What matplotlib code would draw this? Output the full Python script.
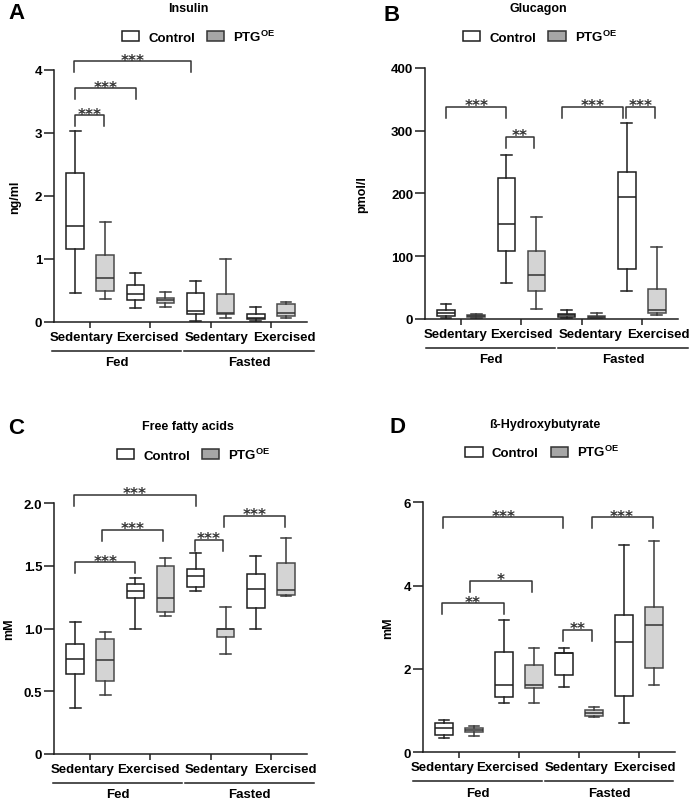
import matplotlib
matplotlib.use('Agg')
import matplotlib.pyplot as plt
import matplotlib.transforms as mtransforms
from matplotlib.patches import Patch

plt.rcParams['font.family'] = ['Liberation Sans', 'DejaVu Sans']
plt.rcParams['font.weight'] = 'bold'
plt.rcParams['mathtext.fontset'] = 'custom'
plt.rcParams['mathtext.rm'] = 'Liberation Sans:bold'
plt.rcParams['mathtext.bf'] = 'Liberation Sans:bold'

# box order: Fed Sed Ctrl, Fed Sed PTG, Fed Ex Ctrl, Fed Ex PTG,
#            Fasted Sed Ctrl, Fasted Sed PTG, Fasted Ex Ctrl, Fasted Ex PTG
series = ['Control', r'PTG$^{\mathbf{OE}}$']
conditions = ['Sedentary', 'Exercised', 'Sedentary', 'Exercised']
feeding = ['Fed', 'Fasted']

ins_lo = [0.46, 0.37, 0.22, 0.24, 0.02, 0.07, 0.02, 0.06]
ins_q1 = [1.16, 0.49, 0.35, 0.30, 0.13, 0.13, 0.05, 0.09]
ins_med = [1.53, 0.69, 0.45, 0.35, 0.17, 0.15, 0.07, 0.15]
ins_q3 = [2.37, 1.07, 0.59, 0.38, 0.46, 0.44, 0.13, 0.28]
ins_hi = [3.03, 1.58, 0.77, 0.48, 0.65, 1.00, 0.23, 0.32]

glu_lo = [2, 2, 57, 16, 2, 1, 45, 6]
glu_q1 = [5, 3, 109, 45, 3, 2, 80, 10]
glu_med = [9, 4.5, 151, 70, 6.5, 3.5, 195, 14]
glu_q3 = [14, 6, 225, 108, 8.5, 4.5, 234, 48]
glu_hi = [24, 8, 262, 163, 14, 9.5, 312, 115]

ffa_lo = [0.37, 0.47, 1.00, 1.10, 1.30, 0.80, 1.00, 1.26]
ffa_q1 = [0.64, 0.58, 1.245, 1.13, 1.33, 0.93, 1.165, 1.27]
ffa_med = [0.76, 0.75, 1.30, 1.245, 1.42, 1.00, 1.32, 1.305]
ffa_q3 = [0.88, 0.915, 1.36, 1.50, 1.475, 1.00, 1.435, 1.525]
ffa_hi = [1.05, 0.97, 1.40, 1.56, 1.60, 1.17, 1.58, 1.72]

bhb_lo = [0.335, 0.385, 1.175, 1.19, 1.56, 0.85, 0.71, 1.62]
bhb_q1 = [0.415, 0.48, 1.335, 1.55, 1.86, 0.87, 1.35, 2.02]
bhb_med = [0.59, 0.535, 1.61, 1.615, 2.38, 0.95, 2.65, 3.05]
bhb_q3 = [0.70, 0.58, 2.40, 2.095, 2.39, 1.01, 3.30, 3.49]
bhb_hi = [0.775, 0.64, 3.17, 2.50, 2.50, 1.09, 4.98, 5.07]

# significance brackets: (x start, x end, height, label)
ins_sig = [(-0.03, 3.86, 4.14, '***'), (0, 2.01, 3.71, '***'), (0, 0.96, 3.28, '***')]
glu_sig = [(0, 2.0, 338, '***'), (1.99, 2.92, 290, '**'),
           (3.85, 5.88, 338, '***'), (5.98, 6.94, 338, '***')]
ffa_sig = [(-0.03, 4.0, 2.07, '***'), (0.9, 2.93, 1.79, '***'), (3.97, 4.9, 1.71, '***'),
           (4.93, 6.97, 1.90, '***'), (0, 2.0, 1.53, '***')]
bhb_sig = [(-0.03, 3.98, 5.64, '***'), (4.92, 6.96, 5.64, '***'), (0.87, 2.94, 4.12, '*'),
           (-0.07, 2.0, 3.58, '**'), (3.98, 4.92, 2.94, '**')]

fig = plt.figure(figsize=(6.9, 8.03), dpi=100)

panels = [
    dict(letter='A', title='Insulin', ylabel='ng/ml', rect=[0.0783, 0.5978, 0.3667, 0.3138],
         data=(ins_lo, ins_q1, ins_med, ins_q3, ins_hi), sig=ins_sig, ymax=4,
         yticks=[0, 1, 2, 3, 4], ytl=['0', '1', '2', '3', '4'], shift=0.0, ylx=-0.154,
         letter_xy=(0.012, 0.9826), title_xy=(0.2725, 0.9888), leg_xy=(0.288, 0.954)),
    dict(letter='B', title='Glucagon', ylabel='pmol/l', rect=[0.6159, 0.6015, 0.3667, 0.3126],
         data=(glu_lo, glu_q1, glu_med, glu_q3, glu_hi), sig=glu_sig, ymax=400,
         yticks=[0, 100, 200, 300, 400], ytl=['0', '100', '200', '300', '400'], shift=0.1,
         ylx=-0.249, letter_xy=(0.556, 0.981), title_xy=(0.78, 0.9888), leg_xy=(0.783, 0.954)),
    dict(letter='C', title='Free fatty acids', ylabel='mM', rect=[0.0783, 0.0598, 0.3667, 0.3122],
         data=(ffa_lo, ffa_q1, ffa_med, ffa_q3, ffa_hi), sig=ffa_sig, ymax=2.0,
         yticks=[0, 0.5, 1.0, 1.5, 2.0], ytl=['0', '0.5', '1.0', '1.5', '2.0'], shift=0.02,
         ylx=-0.178, letter_xy=(0.012, 0.4664), title_xy=(0.2725, 0.4682), leg_xy=(0.281, 0.4334)),
    dict(letter='D', title='ß-Hydroxybutyrate', ylabel='mM', rect=[0.613, 0.0619, 0.3652, 0.3113],
         data=(bhb_lo, bhb_q1, bhb_med, bhb_q3, bhb_hi), sig=bhb_sig, ymax=6,
         yticks=[0, 2, 4, 6], ytl=['0', '2', '4', '6'], shift=-0.27,
         ylx=-0.139, letter_xy=(0.565, 0.4676), title_xy=(0.79, 0.4707), leg_xy=(0.786, 0.4363)),
]

dark = '#1e1e1e'
styles = [
    dict(face='white', edge=dark, line=dark, med=dark),
    dict(face='#d4d4d4', edge='#4a4a4a', line='#3a3a3a', med='#333333'),
]
lw = 1.1

for p in panels:
    ax = fig.add_axes(p['rect'])
    lo, q1, med, q3, hi = p['data']
    for k, st in enumerate(styles):
        idx = list(range(k, 8, 2))
        stats = [dict(whislo=lo[i], q1=q1[i], med=med[i], q3=q3[i], whishi=hi[i]) for i in idx]
        ax.bxp(stats, positions=idx, widths=0.58, capwidths=0.36, patch_artist=True,
               showfliers=False, manage_ticks=False,
               boxprops=dict(facecolor=st['face'], edgecolor=st['edge'], linewidth=lw),
               whiskerprops=dict(color=st['line'], linewidth=lw),
               capprops=dict(color=st['line'], linewidth=lw),
               medianprops=dict(color=st['med'], linewidth=lw))

    ax.set_xlim(-0.7, 7.7)
    ax.set_ylim(0, p['ymax'])
    ax.set_yticks(p['yticks'])
    ax.set_yticklabels(p['ytl'])
    ax.set_xticks([0.5, 2.5, 4.5, 6.5])
    ax.set_xticklabels([])
    ax.tick_params(axis='y', length=7, width=lw, pad=1.5, labelsize=9.5, color=dark)
    ax.tick_params(axis='x', length=4.3, width=lw, color=dark)
    for s in ['top', 'right']:
        ax.spines[s].set_visible(False)
    for s in ['left', 'bottom']:
        ax.spines[s].set_color(dark)
        ax.spines[s].set_linewidth(lw)

    # category labels and group lines below the axis
    base = ax.get_xaxis_transform()
    t_lab = mtransforms.offset_copy(base, fig=fig, y=-15 * 0.72, units='points')
    t_line = mtransforms.offset_copy(base, fig=fig, y=-29 * 0.72, units='points')
    t_grp = mtransforms.offset_copy(base, fig=fig, y=-40.5 * 0.72, units='points')
    sh = p['shift']
    for xc, lab in zip([0.23, 2.4, 4.69, 6.96], conditions):
        ax.text(xc + sh, 0, lab, transform=t_lab, ha='center', va='center', fontsize=9.5)
    for (x0, x1), xc, lab in zip([(-0.76, 3.53), (3.63, 7.92)], [1.39, 5.78], feeding):
        ax.plot([x0 + sh, x1 + sh], [0, 0], transform=t_line, color=dark, lw=lw, clip_on=False)
        ax.text(xc + sh, 0, lab, transform=t_grp, ha='center', va='center', fontsize=9.5)

    # significance brackets
    leg = 0.044 * p['ymax']
    for x0, x1, y, lab in p['sig']:
        ax.plot([x0, x0, x1, x1], [y - leg, y, y, y - leg], color='#333333', lw=lw, clip_on=False)
        ax.annotate(lab, xy=((x0 + x1) / 2, y), xytext=(0, -2.5), textcoords='offset points',
                    ha='center', va='baseline', fontsize=11, fontweight='bold',
                    family='DejaVu Sans', color='#333333', annotation_clip=False)

    ax.text(p['ylx'], 0.5, p['ylabel'], rotation=90, transform=ax.transAxes,
            ha='center', va='center', fontsize=9)
    fig.text(p['letter_xy'][0], p['letter_xy'][1], p['letter'], fontsize=16,
             ha='left', va='center')
    fig.text(p['title_xy'][0], p['title_xy'][1], p['title'], fontsize=9,
             ha='center', va='center')

    handles = [Patch(facecolor='white', edgecolor=dark, linewidth=lw),
               Patch(facecolor='#a6a6a6', edgecolor='#333333', linewidth=lw)]
    ax.legend(handles, series, ncol=2, frameon=False, loc='center',
              bbox_to_anchor=p['leg_xy'], bbox_transform=fig.transFigure,
              handlelength=1.3, handleheight=0.8, handletextpad=0.7, columnspacing=0.9,
              borderpad=0, prop=dict(size=9.5, weight='bold'))

fig.savefig('out.png', dpi=100)
